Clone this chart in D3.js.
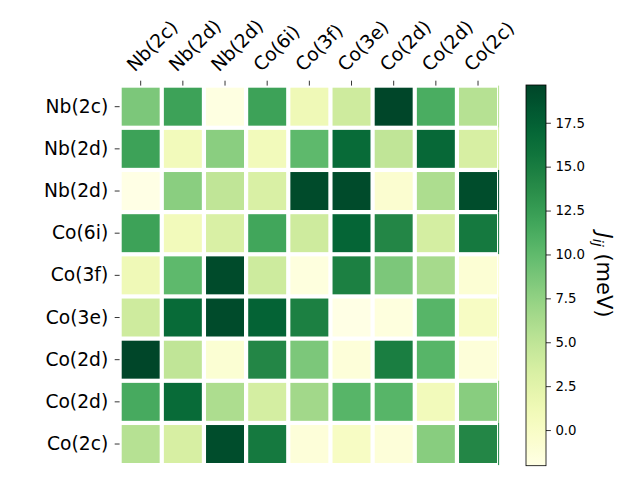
<!DOCTYPE html>
<html><head><meta charset="utf-8">
<script src="https://cdn.jsdelivr.net/npm/d3@7"></script>
<style>body{margin:0;background:#fff}text{font-family:"DejaVu Sans",sans-serif}</style>
</head><body>
<svg id="c" width="640" height="480"></svg>
<script>
const rowLabels = ["Nb(2c)","Nb(2d)","Nb(2d)","Co(6i)","Co(3f)","Co(3e)","Co(2d)","Co(2d)","Co(2c)"];
const colLabels = ["Nb(2c)","Nb(2d)","Nb(2d)","Co(6i)","Co(3f)","Co(3e)","Co(2d)","Co(2d)","Co(2c)"];
const row0 = [8.6, 12.1, -1.8, 12.1, 1.2, 4.0, 19.6, 11.2, 5.5];
const row1 = [12.1, 0.8, 7.9, 0.8, 10.1, 16.6, 4.9, 16.8, 3.4];
const row2 = [-2.0, 7.9, 4.9, 3.2, 19.2, 19.2, -0.7, 6.0, 19.0];
const row3 = [12.1, 0.8, 3.2, 11.8, 4.0, 17.1, 14.2, 3.6, 15.3];
const row4 = [1.2, 10.1, 19.2, 4.1, -1.6, 14.7, 8.6, 6.4, -1.0];
const row5 = [4.0, 16.6, 19.2, 17.3, 14.7, -2.0, -1.6, 10.5, 0.1];
const row6 = [19.6, 4.9, -0.9, 14.2, 8.6, -1.3, 14.9, 10.5, -1.3];
const row7 = [11.4, 16.6, 6.0, 3.6, 6.6, 10.5, 10.5, 0.8, 8.0];
const row8 = [5.5, 3.4, 19.0, 15.3, -1.3, 0.1, -1.3, 8.0, 14.2];
const values = [row0,row1,row2,row3,row4,row5,row6,row7,row8];
const vmin = -2.03, vmax = 19.65;
const cbTicks = [0, 2.5, 5, 7.5, 10, 12.5, 15, 17.5];

const svg = d3.select("#c");
const X0 = 119.6, X1 = 499.1, Y0 = 85.6, Y1 = 465.1;
const x = d3.scaleBand().domain(d3.range(9)).range([X0, X1]).padding(0);
const y = d3.scaleBand().domain(d3.range(9)).range([Y0, Y1]).padding(0);
const color = d3.scaleSequential(d3.interpolateYlGn).domain([vmin, vmax]);
const gap = 2.1;

const cells = [];
values.forEach((r, i) => r.forEach((v, j) => cells.push({i, j, v})));
svg.append("g").selectAll("rect").data(cells).join("rect")
  .attr("x", d => x(d.j) + gap)
  .attr("y", d => y(d.i) + gap)
  .attr("width", x.bandwidth() - 2*gap)
  .attr("height", y.bandwidth() - 2*gap)
  .attr("fill", d => color(d.v));
// sliver of the last column at the right axes edge
svg.append("g").selectAll("rect").data(values).join("rect")
  .attr("x", X1 - 1).attr("width", 1)
  .attr("y", (d, i) => y(i)).attr("height", y.bandwidth())
  .attr("fill", d => color(d[8]));

// left axis
const gl = svg.append("g").attr("transform", `translate(${X0},0)`)
  .call(d3.axisLeft(y).tickSize(4.9).tickPadding(6.5).tickFormat(i => rowLabels[i]));
gl.select(".domain").remove();
gl.selectAll("text").attr("font-size", 18.7).attr("font-family", "DejaVu Sans").attr("fill", "#000");
gl.selectAll("line").attr("stroke", "#000").attr("stroke-width", 0.8);

// top axis
const gt = svg.append("g").attr("transform", `translate(0,${Y0})`)
  .call(d3.axisTop(x).tickSize(4.9).tickFormat(i => colLabels[i]));
gt.select(".domain").remove();
gt.selectAll("line").attr("stroke", "#000").attr("stroke-width", 0.8);
gt.selectAll("text")
  .attr("font-size", 18.7).attr("font-family", "DejaVu Sans").attr("fill", "#000")
  .attr("text-anchor", "start").attr("dy", null).attr("y", null)
  .attr("transform", "translate(-6,-13) rotate(-45)");

// colorbar
const CX0 = 526, CW = 20, CY0 = 85, CY1 = 465.7;
const cy = d3.scaleLinear().domain([vmin, vmax]).range([CY1, CY0]);
const defs = svg.append("defs");
const grad = defs.append("linearGradient").attr("id", "cb").attr("x1", 0).attr("y1", 1).attr("x2", 0).attr("y2", 0);
d3.range(0, 1.0001, 0.02).forEach(t => grad.append("stop").attr("offset", t).attr("stop-color", color(vmin + t*(vmax - vmin))));
svg.append("rect").attr("x", CX0).attr("y", CY0).attr("width", CW).attr("height", CY1 - CY0)
  .attr("fill", "url(#cb)").attr("stroke", "#000").attr("stroke-width", 0.8);
const gc = svg.append("g").attr("transform", `translate(${CX0 + CW},0)`)
  .call(d3.axisRight(cy).tickValues(cbTicks).tickSize(4.9).tickPadding(4.5).tickFormat(d3.format(".1f")));
gc.select(".domain").remove();
gc.selectAll("line").attr("stroke", "#000").attr("stroke-width", 0.8);
gc.selectAll("text").attr("font-size", 13.3).attr("font-family", "DejaVu Sans").attr("fill", "#000");

// colorbar label
const lab = svg.append("text").attr("transform", `translate(597,275) rotate(90)`)
  .attr("text-anchor", "middle").attr("font-size", 21).attr("font-family", "DejaVu Sans");
lab.append("tspan").attr("font-style", "italic").text("J");
lab.append("tspan").attr("font-style", "italic").attr("font-size", 14.5).attr("dy", 4).text("ij");
lab.append("tspan").attr("dy", -4).text(" (meV)");
</script>
</body></html>
